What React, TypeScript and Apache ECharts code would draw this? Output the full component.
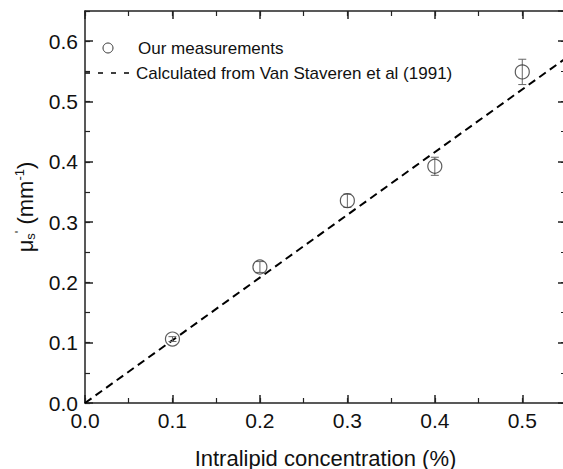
import React, { useEffect, useRef } from "react";
import * as echarts from "echarts";

const concentrations = [0.1, 0.2, 0.3, 0.4, 0.5];
const measured = [0.106, 0.2255, 0.3355, 0.3925, 0.549];
const errors = [0.004, 0.009, 0.011, 0.015, 0.021];
const calcX = [0, 0.55];
const calcY = [0, 0.572];
const legendLabels = ["Our measurements", "Calculated from Van Staveren et al (1991)"];

const FONT = "Liberation Sans, Arial, sans-serif";
const AXIS_COLOR = "#222";

export default function App() {
  const ref = useRef<HTMLDivElement>(null);
  useEffect(() => {
    document.body.style.margin = "0";
    const chart = echarts.init(ref.current!, null, { renderer: "svg" });
    const fmt = (v: number) =>
      Math.abs(v * 10 - Math.round(v * 10)) < 1e-6 ? v.toFixed(1) : "";
    const baseX = { type: "value", min: 0, max: 0.55, splitLine: { show: false } };
    const baseY = { type: "value", min: 0, max: 0.65, splitLine: { show: false } };
    const line = { show: true, onZero: false, lineStyle: { color: AXIS_COLOR, width: 1.5 } };
    const noLine = { show: false, onZero: false };
    const majorTick = { show: true, inside: true, length: 8, lineStyle: { color: AXIS_COLOR, width: 1.5 } };
    const minorTick = { show: true, inside: true, length: 5, lineStyle: { color: AXIS_COLOR, width: 1.2 } };
    const scatterData = concentrations.map((x, i) => [x, measured[i]]);
    const errData = concentrations.map((x, i) => [x, measured[i], errors[i]]);
    const calcData = calcX.map((x, i) => [x, calcY[i]]);

    chart.setOption({
      animation: false,
      textStyle: { fontFamily: FONT },
      grid: { left: 85, top: 11, right: -3, bottom: 66, containLabel: false, outerBoundsMode: "none" },
      xAxis: [
        {
          ...baseX,
          position: "bottom",
          interval: 0.1,
          axisLine: line,
          axisTick: majorTick,
          axisLabel: { formatter: fmt, fontSize: 21, color: "#111", margin: 7, fontFamily: FONT, showMaxLabel: false },
          name: "Intralipid concentration (%)",
          nameLocation: "middle",
          nameGap: 44,
          nameTextStyle: { fontSize: 22, color: "#111", fontFamily: FONT, lineHeight: 22 },
        },
        { ...baseX, position: "bottom", interval: 0.05, axisLine: noLine, axisTick: minorTick, axisLabel: { show: false } },
        { ...baseX, position: "top", interval: 0.1, axisLine: line, axisTick: majorTick, axisLabel: { show: false } },
        { ...baseX, position: "top", interval: 0.05, axisLine: noLine, axisTick: minorTick, axisLabel: { show: false } },
      ],
      yAxis: [
        {
          ...baseY,
          position: "left",
          interval: 0.1,
          axisLine: line,
          axisTick: majorTick,
          axisLabel: { formatter: fmt, fontSize: 21, color: "#111", margin: 7, fontFamily: FONT, showMaxLabel: false },
          name: "{mu|μ}{sub|s}{sup|'} (mm{sup|-1})",
          nameLocation: "middle",
          nameGap: 48,
          nameRotate: 90,
          nameTextStyle: {
            fontFamily: FONT,
            color: "#111",
            fontSize: 22,
            lineHeight: 24,
            rich: {
              mu: { fontSize: 22, fontFamily: FONT, color: "#111", lineHeight: 24, verticalAlign: "middle" },
              sub: { fontSize: 13, fontFamily: FONT, color: "#111", lineHeight: 24, verticalAlign: "bottom" },
              sup: { fontSize: 13, fontFamily: FONT, color: "#111", lineHeight: 24, verticalAlign: "top" },
            },
          },
        },
        { ...baseY, position: "left", interval: 0.05, axisLine: noLine, axisTick: minorTick, axisLabel: { show: false } },
        { ...baseY, position: "right", interval: 0.1, axisLine: line, axisTick: majorTick, axisLabel: { show: false } },
        { ...baseY, position: "right", interval: 0.05, axisLine: noLine, axisTick: minorTick, axisLabel: { show: false } },
      ],
      series: [
        {
          name: legendLabels[1],
          type: "line",
          data: calcData,
          showSymbol: false,
          symbol: "none",
          lineStyle: { color: "#000", width: 2, type: [8, 5] },
          z: 2,
        },
        {
          name: legendLabels[0] + " error",
          type: "custom",
          data: errData,
          z: 3,
          renderItem: (params: any, api: any) => {
            const x = api.value(0);
            const y = api.value(1);
            const e = api.value(2);
            const top = api.coord([x, y + e]);
            const bot = api.coord([x, y - e]);
            const hw = 4;
            const style = { stroke: "#666", lineWidth: 1 };
            return {
              type: "group",
              children: [
                { type: "line", shape: { x1: top[0], y1: top[1], x2: bot[0], y2: bot[1] }, style },
                { type: "line", shape: { x1: top[0] - hw, y1: top[1], x2: top[0] + hw, y2: top[1] }, style },
                { type: "line", shape: { x1: bot[0] - hw, y1: bot[1], x2: bot[0] + hw, y2: bot[1] }, style },
              ],
            };
          },
        },
        {
          name: legendLabels[0],
          type: "scatter",
          data: scatterData,
          symbol: "circle",
          symbolSize: 14,
          itemStyle: { color: "rgba(0,0,0,0)", borderColor: "#333", borderWidth: 1.2 },
          z: 4,
        },
      ],
      graphic: [
        { type: "circle", shape: { cx: 108, cy: 48, r: 5 }, style: { fill: "none", stroke: "#333", lineWidth: 1 } },
        {
          type: "text",
          x: 138,
          y: 48,
          style: { text: legendLabels[0], fontSize: 17, fontFamily: FONT, fill: "#111", verticalAlign: "middle", align: "left" },
        },
        {
          type: "line",
          shape: { x1: 85, y1: 73, x2: 130, y2: 73 },
          style: { stroke: "#000", lineWidth: 1.6, lineDash: [5, 8] },
        },
        {
          type: "text",
          x: 136,
          y: 73,
          style: { text: legendLabels[1], fontSize: 17, fontFamily: FONT, fill: "#111", verticalAlign: "middle", align: "left" },
        },
      ],
    });
    return () => chart.dispose();
  }, []);
  return <div ref={ref} style={{ width: 563, height: 469, position: "fixed", left: 0, top: 0, background: "#fff" }} />;
}
